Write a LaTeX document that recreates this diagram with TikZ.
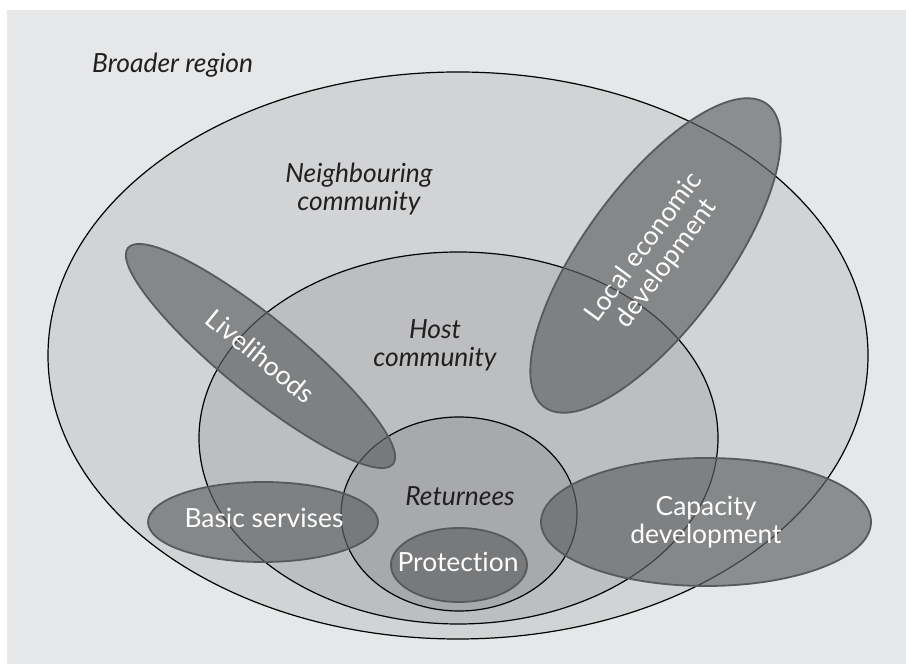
\documentclass[tikz,border=0pt]{standalone}
\usepackage{fontspec}
\setmainfont{Lato}[Ligatures=NoCommon]
\usetikzlibrary{shapes.geometric}
\definecolor{panel}{HTML}{E6E7E8}
\definecolor{ring1}{HTML}{D1D3D4}
\definecolor{ring2}{HTML}{BCBEC0}
\definecolor{ring3}{HTML}{A7A9AC}
\definecolor{dkfill}{HTML}{616264}
\definecolor{dkline}{HTML}{58595B}
\definecolor{ink}{HTML}{231F20}
\tikzset{
  ring/.style={ellipse, draw=black, line width=1.2bp, inner sep=0pt},
  theme/.style={ellipse, draw=dkline, line width=1.8bp, fill=dkfill, fill opacity=0.67,
    text opacity=1, text=white, inner sep=0pt, align=center,
    font=\fontsize{26.5}{28}\selectfont},
  lab/.style={text=ink, align=center, inner sep=0pt, font=\fontsize{26.5}{28.5}\selectfont\itshape},
  wlab/.style={text=white, anchor=base, inner sep=0pt, font=\fontsize{26.5}{28}\selectfont}
}
\begin{document}
\begin{tikzpicture}[x=1bp,y=1bp]
\useasboundingbox (0,0) rectangle (906,664);
\fill[panel] (7,0) rectangle (906,654);
% community rings
\node[ring, fill=ring1, minimum width=820bp, minimum height=567bp] (outer) at (458,308.5) {};
\node[ring, fill=ring2, minimum width=519bp, minimum height=372bp] (host) at (458.5,226) {};
\node[ring, fill=ring3, minimum width=236bp, minimum height=194bp] (ret) at (459,150) {};
% labels of rings
\node[lab, anchor=base west] (broad) at (92,591) {Broader region};
\node[lab] (neigh) at (359,475) {Neighbouring\\community};
\node[lab] (hostlab) at (435,318.5) {Host\\community};
\node[lab, anchor=base] (retlab) at (460,158) {Returnees};
% themes
\node[theme, minimum width=342bp, minimum height=76bp, rotate=-39.2] (live) at (260.5,308) {Livelihoods};
\node[theme, minimum width=376bp, minimum height=142bp, rotate=53.7] (led) at (655.5,408.5) {Local economic\\development};
\node[theme, minimum width=230bp, minimum height=80bp] (basic) at (263,142) {};
\node[theme, minimum width=330bp, minimum height=128bp] (cap) at (706,142) {Capacity\\development};
\node[theme, minimum width=136bp, minimum height=74bp] (prot) at (459,99) {};
\node[wlab] (basiclab) at (264,136) {Basic servises};
\node[wlab] (protlab) at (458,92) {Protection};
\end{tikzpicture}
\end{document}
